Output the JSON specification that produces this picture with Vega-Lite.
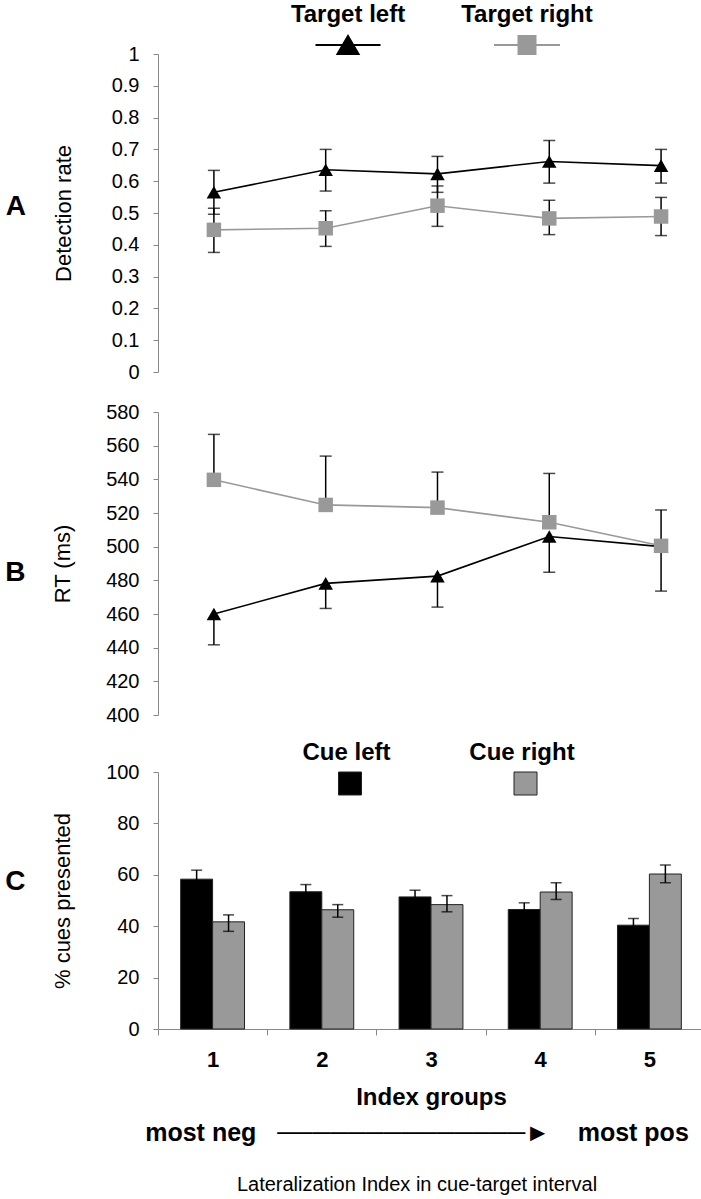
{
  "$schema": "https://vega.github.io/schema/vega-lite/v6.json",
  "autosize": {"type": "pad"},
  "padding": {"left": 5, "top": 15, "right": 0, "bottom": 0},
  "background": "white",
  "datasets": {
    "detect": [
      {"group": 1, "series": "Target left", "value": 0.565, "lo": 0.496, "hi": 0.634},
      {"group": 2, "series": "Target left", "value": 0.636, "lo": 0.569, "hi": 0.700},
      {"group": 3, "series": "Target left", "value": 0.623, "lo": 0.565, "hi": 0.678},
      {"group": 4, "series": "Target left", "value": 0.662, "lo": 0.594, "hi": 0.728},
      {"group": 5, "series": "Target left", "value": 0.649, "lo": 0.594, "hi": 0.700},
      {"group": 1, "series": "Target right", "value": 0.447, "lo": 0.376, "hi": 0.515},
      {"group": 2, "series": "Target right", "value": 0.452, "lo": 0.395, "hi": 0.507},
      {"group": 3, "series": "Target right", "value": 0.523, "lo": 0.458, "hi": 0.585},
      {"group": 4, "series": "Target right", "value": 0.483, "lo": 0.432, "hi": 0.540},
      {"group": 5, "series": "Target right", "value": 0.489, "lo": 0.429, "hi": 0.549}
    ],
    "rt": [
      {"group": 1, "series": "Target left", "value": 460.0, "lo": 441.7, "hi": 460.0},
      {"group": 2, "series": "Target left", "value": 478.2, "lo": 463.3, "hi": 478.2},
      {"group": 3, "series": "Target left", "value": 482.5, "lo": 464.1, "hi": 482.5},
      {"group": 4, "series": "Target left", "value": 506.0, "lo": 484.8, "hi": 506.0},
      {"group": 5, "series": "Target left", "value": 500.0, "lo": 473.6, "hi": 500.0},
      {"group": 1, "series": "Target right", "value": 539.7, "lo": 539.7, "hi": 566.7},
      {"group": 2, "series": "Target right", "value": 524.8, "lo": 524.8, "hi": 553.8},
      {"group": 3, "series": "Target right", "value": 523.2, "lo": 523.2, "hi": 544.3},
      {"group": 4, "series": "Target right", "value": 514.5, "lo": 514.5, "hi": 543.5},
      {"group": 5, "series": "Target right", "value": 500.5, "lo": 500.5, "hi": 521.8}
    ],
    "cues": [
      {"group": 1, "cue": "Cue left", "pct": 58.3, "lo": 54.8, "hi": 61.8},
      {"group": 1, "cue": "Cue right", "pct": 41.7, "lo": 38.0, "hi": 44.4},
      {"group": 2, "cue": "Cue left", "pct": 53.4, "lo": 50.6, "hi": 56.2},
      {"group": 2, "cue": "Cue right", "pct": 46.4, "lo": 43.5, "hi": 48.4},
      {"group": 3, "cue": "Cue left", "pct": 51.4, "lo": 48.8, "hi": 54.0},
      {"group": 3, "cue": "Cue right", "pct": 48.4, "lo": 45.6, "hi": 51.9},
      {"group": 4, "cue": "Cue left", "pct": 46.5, "lo": 43.9, "hi": 49.1},
      {"group": 4, "cue": "Cue right", "pct": 53.3, "lo": 50.4, "hi": 56.9},
      {"group": 5, "cue": "Cue left", "pct": 40.4, "lo": 37.8, "hi": 43.0},
      {"group": 5, "cue": "Cue right", "pct": 60.3, "lo": 56.9, "hi": 63.8}
    ]
  },
  "title": {
    "text": "most neg\u00a0\u00a0\u00a0──────────────►\u00a0\u00a0\u00a0\u00a0most pos",
    "subtitle": "Lateralization Index in cue-target interval",
    "orient": "bottom", "anchor": "middle", "frame": "group",
    "font": "Liberation Sans", "fontSize": 25, "fontWeight": "bold", "color": "#000000",
    "subtitleFont": "Liberation Sans", "subtitleFontSize": 20, "subtitleFontWeight": "normal", "subtitleColor": "#000000",
    "subtitlePadding": 29, "offset": 12, "dx": -14
  },
  "spacing": 27,
  "resolve": {"scale": {"x": "independent", "y": "independent", "color": "independent", "shape": "independent", "stroke": "independent"}, "legend": {"color": "independent", "shape": "independent", "stroke": "independent"}},
  "vconcat": [
    {
      "bounds": "flush",
      "spacing": 40,
      "resolve": {"scale": {"x": "independent", "y": "independent", "color": "independent", "shape": "independent", "stroke": "independent"}, "legend": {"color": "independent", "shape": "independent", "stroke": "independent"}},
      "vconcat": [
        {
          "width": 546, "height": 318,
          "title": {"text": "A", "orient": "left", "frame": "group", "anchor": "middle", "angle": 0, "align": "right", "baseline": "middle", "font": "Liberation Sans", "fontSize": 28, "fontWeight": "bold", "color": "#000000", "offset": 6, "dy": -6},
          "data": {"name": "detect"},
          "encoding": {"x": {"field": "group", "type": "quantitative", "scale": {"domain": [0.5, 5.384], "nice": false, "zero": false}, "axis": null}},
          "resolve": {"scale": {"color": "independent", "shape": "independent", "stroke": "independent"}, "legend": {"color": "independent", "shape": "independent", "stroke": "independent"}},
          "layer": [
            {
              "mark": {"type": "line", "strokeWidth": 1.6},
              "encoding": {
                "y": {"field": "value", "type": "quantitative", "title": "Detection rate", "scale": {"domain": [0, 1], "nice": false}, "axis": {"values": [0, 0.1, 0.2, 0.3, 0.4, 0.5, 0.6, 0.7, 0.8, 0.9, 1], "format": "~g", "labelOverlap": false, "titlePadding": 36}},
                "color": {"field": "series", "type": "nominal", "scale": {"domain": ["Target left", "Target right"], "range": ["#000000", "#999999"]}, "legend": null}
              }
            },
            {
              "mark": {"type": "rule", "color": "#000000", "strokeWidth": 1.5},
              "encoding": {
                "y": {"field": "lo", "type": "quantitative", "title": "Detection rate", "axis": {"values": [0, 0.1, 0.2, 0.3, 0.4, 0.5, 0.6, 0.7, 0.8, 0.9, 1], "format": "~g", "labelOverlap": false, "titlePadding": 36}},
                "y2": {"field": "hi"}
              }
            },
            {
              "mark": {"type": "tick", "orient": "horizontal", "color": "#000000", "size": 12, "thickness": 1.5},
              "encoding": {"y": {"field": "lo", "type": "quantitative", "title": "Detection rate", "axis": {"values": [0, 0.1, 0.2, 0.3, 0.4, 0.5, 0.6, 0.7, 0.8, 0.9, 1], "format": "~g", "labelOverlap": false, "titlePadding": 36}}}
            },
            {
              "mark": {"type": "tick", "orient": "horizontal", "color": "#000000", "size": 12, "thickness": 1.5},
              "encoding": {"y": {"field": "hi", "type": "quantitative", "title": "Detection rate", "axis": {"values": [0, 0.1, 0.2, 0.3, 0.4, 0.5, 0.6, 0.7, 0.8, 0.9, 1], "format": "~g", "labelOverlap": false, "titlePadding": 36}}}
            },
            {
              "mark": {"type": "point", "filled": true, "size": 210, "opacity": 1},
              "encoding": {
                "y": {"field": "value", "type": "quantitative", "title": "Detection rate", "axis": {"values": [0, 0.1, 0.2, 0.3, 0.4, 0.5, 0.6, 0.7, 0.8, 0.9, 1], "format": "~g", "labelOverlap": false, "titlePadding": 36}},
                "color": {"field": "series", "type": "nominal", "scale": {"domain": ["Target left", "Target right"], "range": ["#000000", "#999999"]}, "legend": null},
                "shape": {"field": "series", "type": "nominal", "scale": {"domain": ["Target left", "Target right"], "range": ["triangle-up", "square"]}, "legend": null}
              }
            },
            {
              "transform": [{"filter": "false"}],
              "mark": {"type": "point", "filled": true, "size": 400, "strokeWidth": 2},
              "encoding": {
                "y": {"field": "value", "type": "quantitative", "title": "Detection rate", "axis": {"values": [0, 0.1, 0.2, 0.3, 0.4, 0.5, 0.6, 0.7, 0.8, 0.9, 1], "format": "~g", "labelOverlap": false, "titlePadding": 36}},
                "color": {"field": "series", "type": "nominal", "scale": {"domain": ["Target left", "Target right"], "range": ["#000000", "#999999"]},
                  "legend": {"title": null, "orient": "none", "legendX": 178, "legendY": -39, "direction": "horizontal", "padding": 0,
                    "symbolSize": 400, "symbolStrokeWidth": 2, "symbolOpacity": 1,
                    "labelFont": "Liberation Sans", "labelFontSize": 24, "labelFontWeight": "bold", "labelColor": "#000000",
                    "labelAlign": "center", "labelBaseline": "bottom", "labelOffset": -12, "columnPadding": 55}},
                "stroke": {"field": "series", "type": "nominal", "scale": {"domain": ["Target left", "Target right"], "range": ["#000000", "#999999"]},
                  "legend": {"title": null, "orient": "none", "legendX": 178, "legendY": -39, "direction": "horizontal", "padding": 0,
                    "symbolSize": 400, "symbolStrokeWidth": 2, "symbolOpacity": 1,
                    "labelFont": "Liberation Sans", "labelFontSize": 24, "labelFontWeight": "bold", "labelColor": "#000000",
                    "labelAlign": "center", "labelBaseline": "bottom", "labelOffset": -12, "columnPadding": 55}},
                "shape": {"field": "series", "type": "nominal", "scale": {"domain": ["Target left", "Target right"], "range": ["M-3.25,1.8H3.25M0,0.9L1.05,2.7L-1.05,2.7Z", "M-3.3,1.8H3.3M-0.85,0.9H0.85V2.7H-0.85Z"]},
                  "legend": {"title": null, "orient": "none", "legendX": 178, "legendY": -39, "direction": "horizontal", "padding": 0,
                    "symbolSize": 400, "symbolStrokeWidth": 2, "symbolOpacity": 1,
                    "labelFont": "Liberation Sans", "labelFontSize": 24, "labelFontWeight": "bold", "labelColor": "#000000",
                    "labelAlign": "center", "labelBaseline": "bottom", "labelOffset": -12, "columnPadding": 55}}
              }
            }
          ]
        },
        {
          "width": 546, "height": 303,
          "title": {"text": "B", "orient": "left", "frame": "group", "anchor": "middle", "angle": 0, "align": "right", "baseline": "middle", "font": "Liberation Sans", "fontSize": 28, "fontWeight": "bold", "color": "#000000", "offset": 6, "dy": 9},
          "data": {"name": "rt"},
          "encoding": {"x": {"field": "group", "type": "quantitative", "scale": {"domain": [0.5, 5.384], "nice": false, "zero": false}, "axis": null}},
          "layer": [
            {
              "mark": {"type": "line", "strokeWidth": 1.6},
              "encoding": {
                "y": {"field": "value", "type": "quantitative", "title": "RT (ms)", "scale": {"domain": [400, 580], "nice": false, "zero": false}, "axis": {"values": [400, 420, 440, 460, 480, 500, 520, 540, 560, 580], "labelOverlap": false, "titlePadding": 31}},
                "color": {"field": "series", "type": "nominal", "scale": {"domain": ["Target left", "Target right"], "range": ["#000000", "#999999"]}, "legend": null}
              }
            },
            {
              "mark": {"type": "rule", "color": "#000000", "strokeWidth": 1.5},
              "encoding": {
                "y": {"field": "lo", "type": "quantitative", "title": "RT (ms)", "axis": {"values": [400, 420, 440, 460, 480, 500, 520, 540, 560, 580], "labelOverlap": false, "titlePadding": 31}},
                "y2": {"field": "hi"}
              }
            },
            {
              "transform": [{"filter": "datum.lo < datum.value"}],
              "mark": {"type": "tick", "orient": "horizontal", "color": "#000000", "size": 12, "thickness": 1.5},
              "encoding": {"y": {"field": "lo", "type": "quantitative", "title": "RT (ms)", "axis": {"values": [400, 420, 440, 460, 480, 500, 520, 540, 560, 580], "labelOverlap": false, "titlePadding": 31}}}
            },
            {
              "transform": [{"filter": "datum.hi > datum.value"}],
              "mark": {"type": "tick", "orient": "horizontal", "color": "#000000", "size": 12, "thickness": 1.5},
              "encoding": {"y": {"field": "hi", "type": "quantitative", "title": "RT (ms)", "axis": {"values": [400, 420, 440, 460, 480, 500, 520, 540, 560, 580], "labelOverlap": false, "titlePadding": 31}}}
            },
            {
              "mark": {"type": "point", "filled": true, "size": 210, "opacity": 1},
              "encoding": {
                "y": {"field": "value", "type": "quantitative", "title": "RT (ms)", "axis": {"values": [400, 420, 440, 460, 480, 500, 520, 540, 560, 580], "labelOverlap": false, "titlePadding": 31}},
                "color": {"field": "series", "type": "nominal", "scale": {"domain": ["Target left", "Target right"], "range": ["#000000", "#999999"]}, "legend": null},
                "shape": {"field": "series", "type": "nominal", "scale": {"domain": ["Target left", "Target right"], "range": ["triangle-up", "square"]}, "legend": null}
              }
            }
          ]
        }
      ]
    },
    {
      "width": 546, "height": 257,
      "title": {"text": "C", "orient": "left", "frame": "group", "anchor": "middle", "angle": 0, "align": "right", "baseline": "middle", "font": "Liberation Sans", "fontSize": 28, "fontWeight": "bold", "color": "#000000", "offset": 6, "dy": -19},
      "data": {"name": "cues"},
      "encoding": {
        "x": {"field": "group", "type": "ordinal", "scale": {"paddingInner": 0, "paddingOuter": 0},
          "axis": {"title": "Index groups", "labelAngle": 0, "labelFontWeight": "bold", "labelFontSize": 22, "titleFontWeight": "bold", "titleFontSize": 24, "tickBand": "extent", "tickSize": 6, "labelPadding": 14, "titlePadding": 15}},
        "xOffset": {"field": "cue", "type": "nominal", "scale": {"domain": ["Cue left", "Cue right"], "paddingInner": 0, "paddingOuter": 0.71}}
      },
      "layer": [
        {
          "mark": {"type": "bar", "stroke": "#222222", "strokeWidth": 1},
          "encoding": {
            "y": {"field": "pct", "type": "quantitative", "title": "% cues presented", "scale": {"domain": [0, 100], "nice": false}, "axis": {"values": [0, 20, 40, 60, 80, 100], "labelOverlap": false, "titlePadding": 31}},
            "color": {"field": "cue", "type": "nominal", "scale": {"domain": ["Cue left", "Cue right"], "range": ["#000000", "#999999"]},
              "legend": {"title": null, "orient": "none", "legendX": 180, "legendY": -19.5, "direction": "horizontal", "padding": 0,
                "symbolType": "M-1,0.61H1V2.61H-1Z", "symbolSize": 529, "symbolStrokeColor": "#222222", "symbolStrokeWidth": 1, "symbolOpacity": 1,
                "labelFont": "Liberation Sans", "labelFontSize": 24, "labelFontWeight": "bold", "labelColor": "#000000",
                "labelAlign": "center", "labelBaseline": "bottom", "labelOffset": -15.5, "columnPadding": 77.5}
            }
          }
        },
        {
          "mark": {"type": "rule", "color": "#000000", "strokeWidth": 1.5},
          "encoding": {
            "y": {"field": "lo", "type": "quantitative", "title": "% cues presented"},
            "y2": {"field": "hi"}
          }
        },
        {
          "mark": {"type": "tick", "orient": "horizontal", "color": "#000000", "size": 11, "thickness": 1.5},
          "encoding": {"y": {"field": "lo", "type": "quantitative", "title": "% cues presented"}}
        },
        {
          "mark": {"type": "tick", "orient": "horizontal", "color": "#000000", "size": 11, "thickness": 1.5},
          "encoding": {"y": {"field": "hi", "type": "quantitative", "title": "% cues presented"}}
        }
      ]
    }
  ],
  "config": {
    "font": "Liberation Sans",
    "view": {"stroke": null},
    "axis": {"domainColor": "#888888", "tickColor": "#888888", "labelColor": "#000000", "titleColor": "#000000", "labelFont": "Liberation Sans", "titleFont": "Liberation Sans", "labelFontSize": 20, "titleFontSize": 22, "titleFontWeight": "normal", "tickSize": 5, "labelPadding": 14, "labelOverlap": false, "grid": false}
  }
}
